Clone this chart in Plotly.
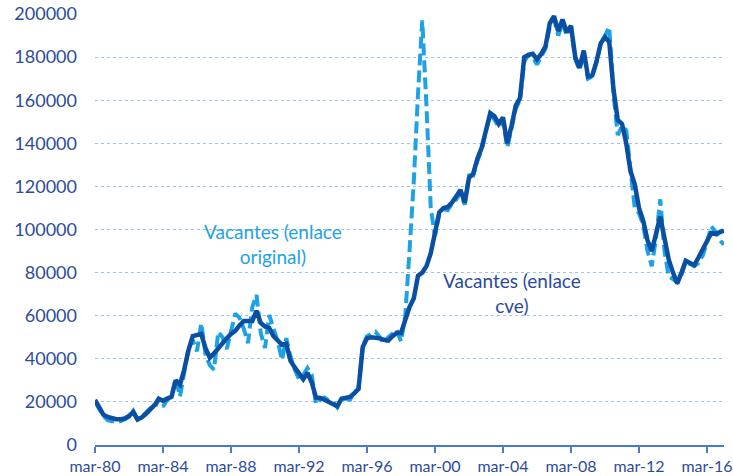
import plotly.graph_objects as go

# Quarterly series, 1980Q1 .. 2017Q1
cve = [
    20900, 17000, 14000, 13000, 12300, 12000, 12000, 12300, 13500, 15300,
    11800, 12800, 14500, 16500, 18500, 21500, 20500, 21500, 22300, 30000,
    28000, 35000, 44000, 50500, 51000, 51500, 45000, 40500, 42500, 45000,
    47000, 49500, 51500, 53000, 55500, 57500, 57500, 57500, 62300, 56600,
    55000, 54300, 50500, 48500, 46500, 47000, 39000, 36000, 33500, 30500,
    33500, 29000, 22000, 21800, 21000, 20000, 19000, 18000, 21500, 22000,
    22300, 24000, 26000, 45500, 49500, 50000, 50000, 49500, 48800, 48500,
    50500, 52000, 52000, 58000, 64000, 68000, 78500, 80000, 83000, 89000,
    99000, 108000, 110000, 110500, 112500, 115000, 118300, 112500, 124000, 126000,
    133000, 138000, 146000, 154000, 152500, 149000, 152000, 140000, 148000, 157500,
    161000, 180000, 181000, 181500, 179000, 181500, 185000, 195700, 199000, 192000,
    197500, 191500, 194500, 180000, 175000, 183000, 171000, 171500, 178000, 186500,
    189300, 187000, 165000, 150800, 149000, 140000, 127000, 121000, 110000, 104000,
    95000, 90000, 98000, 106000, 96000, 86000, 80000, 75000, 80000, 85500,
    84500, 83500, 87000, 90500, 95000, 98400, 98000, 98800, 99500,
]

original = [
    20000, 16500, 13500, 11500, 11000, 11000, 11000, 12000, 13000, 15800,
    12000, 13000, 15000, 17000, 17000, 21500, 17800, 21000, 23000, 31000,
    22500, 35000, 45000, 48700, 43500, 56500, 42000, 37000, 35000, 52500,
    50000, 44500, 52000, 61000, 59000, 54000, 47300, 64000, 69600, 52000,
    45000, 60300, 54000, 48000, 39500, 49600, 41000, 35000, 30500, 32500,
    35700, 32500, 19000, 21000, 22000, 20500, 20000, 17500, 21500, 21500,
    21000, 24500, 26000, 46000, 50500, 51500, 52500, 50000, 47000, 50000,
    51500, 53400, 48000, 60000, 90000, 122000, 163000, 197000, 157000, 110000,
    97000, 107000, 109500, 109000, 112000, 114000, 117000, 111500, 125000, 125000,
    132000, 137000, 146000, 153000, 151000, 147500, 150500, 138000, 147000, 156000,
    160000, 178000, 181000, 180000, 176500, 180500, 184000, 194000, 197500, 190000,
    196000, 190000, 193500, 179000, 174000, 182000, 170000, 171000, 177500, 186000,
    190000, 194000, 163000, 143800, 148000, 146000, 128000, 110000, 107600, 102000,
    90000, 83000, 96000, 114000, 90000, 78000, 77000, 75500, 79000, 85000,
    84000, 83000, 84500, 88000, 94000, 101500, 99000, 95000, 93000,
]

tick_labels = ["mar-80", "mar-84", "mar-88", "mar-92", "mar-96",
               "mar-00", "mar-04", "mar-08", "mar-12", "mar-16"]
label_original = "Vacantes (enlace<br>original)"
label_cve = "Vacantes (enlace<br>cve)"

x = list(range(len(cve)))
tick_pos = [i * 16 for i in range(len(tick_labels))]

DARK = "#0b4fa3"
LIGHT = "#1ea2e6"
TEXT = "#2c4c9a"
FONT = "Lato"

fig = go.Figure()
fig.add_trace(go.Scatter(x=x, y=original, mode="lines",
                         line=dict(color=LIGHT, width=4, dash="12px,5px"),
                         name="Vacantes (enlace original)"))
fig.add_trace(go.Scatter(x=x, y=cve, mode="lines",
                         line=dict(color=DARK, width=4.5),
                         name="Vacantes (enlace cve)"))

fig.update_layout(
    width=733, height=476,
    margin=dict(l=95, r=9, t=14, b=31),
    paper_bgcolor="white", plot_bgcolor="white",
    showlegend=False,
    font=dict(family=FONT, color=TEXT),
)
fig.update_xaxes(
    range=[0, 148], tickmode="array", tickvals=tick_pos, ticktext=tick_labels,
    showgrid=False, zeroline=False, showline=True, linecolor="#4a7cc4",
    linewidth=2, ticks="outside", ticklen=6, tickwidth=2, tickcolor="#4a7cc4",
    tickfont=dict(family=FONT, size=16, color=TEXT),
    automargin=False,
)
fig.update_yaxes(
    range=[0, 200000], tickmode="array",
    tickvals=list(range(0, 200001, 20000)),
    ticktext=[str(v) for v in range(0, 200001, 20000)],
    showgrid=True, gridcolor="#9cc4ee", griddash="dot", gridwidth=1,
    zeroline=False, showline=False, ticks="",
    ticklabelstandoff=17,
    tickfont=dict(family=FONT, size=18, color=TEXT),
    automargin=False,
)
fig.add_annotation(xref="paper", yref="paper", x=0.283, y=0.466,
                   xanchor="center", yanchor="middle",
                   text=label_original, showarrow=False, align="center",
                   font=dict(family=FONT, size=19, color=LIGHT))
fig.add_annotation(xref="paper", yref="paper", x=0.663, y=0.353,
                   xanchor="center", yanchor="middle",
                   text=label_cve, showarrow=False, align="center",
                   font=dict(family=FONT, size=19, color="#2a4aa0"))

fig.write_html("out.html", config={"displayModeBar": False})

# remove the default page margin so the figure fills the window exactly
with open("out.html", "r", encoding="utf-8") as f:
    html = f.read()
html = html.replace("<head>", "<head><style>html,body{margin:0;padding:0;overflow:hidden;}</style>", 1)
with open("out.html", "w", encoding="utf-8") as f:
    f.write(html)
